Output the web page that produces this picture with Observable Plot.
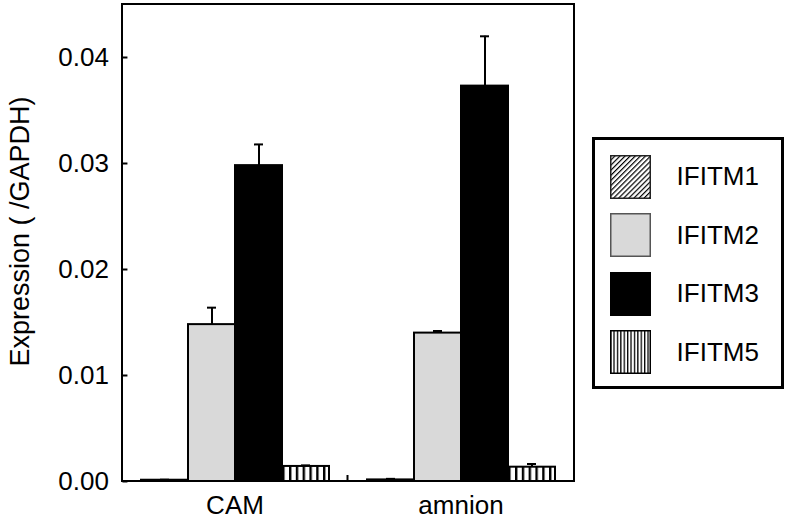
<!DOCTYPE html>
<html><head><meta charset="utf-8">
<script src="https://cdn.jsdelivr.net/npm/d3@7"></script>
<script src="https://cdn.jsdelivr.net/npm/@observablehq/plot@0.6"></script>
<style>
body{margin:0;background:#fff;font-family:Arial,"Liberation Sans",sans-serif;}
#wrap{position:relative;width:787px;height:528px;overflow:hidden;}
#legend{position:absolute;left:592px;top:137px;width:186px;height:246px;border:3px solid #000;background:#fff;}
.item{position:absolute;left:14.6px;height:44px;display:flex;align-items:center;}
.item svg{display:block;}
.item span{margin-left:26px;font-size:26px;color:#000;}
</style></head>
<body>
<svg width="0" height="0" style="position:absolute">
  <defs>
    <pattern id="vbar" patternUnits="userSpaceOnUse" width="6.8" height="10">
      <rect width="6.8" height="10" fill="#fff"/><rect x="0" width="2.4" height="10" fill="#000"/>
    </pattern>
    <pattern id="vleg" patternUnits="userSpaceOnUse" width="3.4" height="10">
      <rect width="3.4" height="10" fill="#fff"/><rect x="0" width="1.3" height="10" fill="#000"/>
    </pattern>
    <pattern id="diag" patternUnits="userSpaceOnUse" width="3.6" height="3.6" patternTransform="rotate(45)">
      <rect width="3.6" height="3.6" fill="#fff"/><rect width="1.2" height="3.6" fill="#000"/>
    </pattern>
  </defs>
</svg>
<div id="wrap"><div id="chart"></div><div id="legend"></div></div>
<script>
const groups = ["CAM", "amnion"];
const genes = ["IFITM1", "IFITM2", "IFITM3", "IFITM5"];
const camValues = [0.00012, 0.0148, 0.0298, 0.00142];
const camErrors = [0.00005, 0.0016, 0.0020, 0.0001];
const amnionValues = [0.00015, 0.0140, 0.0373, 0.00135];
const amnionErrors = [0.0001, 0.0002, 0.0047, 0.0003];
const yTicks = [0, 0.01, 0.02, 0.03, 0.04];
const yLabel = "Expression ( /GAPDH)";
const barFills = ["url(#diag)", "#d9d9d9", "#000000", "url(#vbar)"];
const legendFills = ["url(#diag)", "#d9d9d9", "#000000", "url(#vleg)"];
const legendStrokes = ["#222", "#555", "#000", "#000"];

const seriesValues = {CAM: camValues, amnion: amnionValues};
const seriesErrors = {CAM: camErrors, amnion: amnionErrors};
const data = groups.flatMap(g => genes.map((gene, i) => ({
  group: g, gene, value: seriesValues[g][i], error: seriesErrors[g][i], fill: barFills[i]
})));

const W = 787, H = 528, mL = 122, mR = 213, mT = 4, mB = 47;
const pI = 0.154, pO = 0.073;
// the y axis is anchored on the first facet's left edge; offset back to the frame
const step = (W - mL - mR) / (groups.length - pI + 2 * pO);
const outer = pO * step;
const font = 'Arial, "Liberation Sans", sans-serif';

const chart = Plot.plot({
  width: W, height: H, marginLeft: mL, marginRight: mR, marginTop: mT, marginBottom: mB,
  style: {fontFamily: font, fontSize: "26px", background: "white", color: "black"},
  fx: {domain: groups, paddingInner: pI, paddingOuter: pO, label: null},
  x: {domain: genes, padding: 0, axis: null},
  y: {domain: [0, 0.045]},
  color: {type: "identity"},
  marks: [
    Plot.barY(data, {fx: "group", x: "gene", y: "value", fill: "fill", stroke: "black", strokeWidth: 2, inset: 0}),
    Plot.ruleX(data, {fx: "group", x: "gene", y1: "value", y2: d => d.value + d.error, strokeWidth: 2, stroke: "black"}),
    Plot.tickY(data, {fx: "group", x: "gene", y: d => d.value + d.error, strokeWidth: 2, stroke: "black", insetLeft: 19, insetRight: 19}),
    // tick labels
    Plot.axisY({ticks: yTicks, tickFormat: d3.format(".2f"), tickSize: 0, tickPadding: 14 + outer, label: null, fontSize: 26}),
    // inward tick marks
    Plot.axisY({ticks: yTicks, tickFormat: () => "", tickSize: 5, dx: 5 - outer, strokeWidth: 2, label: null}),
    // axis title (only in the first facet)
    Plot.text([yLabel], {fx: () => groups[0], text: d => d, frameAnchor: "left", rotate: -90,
      textAnchor: "middle", lineAnchor: "middle", dx: 19 - mL - outer, dy: -11.5, fontSize: 27}),
    Plot.axisFx({anchor: "bottom", tickSize: 0, tickPadding: 14, label: null, fontSize: 26})
  ]
});
document.getElementById("chart").appendChild(chart);

// outer frame and group separator tick
const svg = d3.select(chart);
svg.append("rect").attr("x", mL).attr("y", mT).attr("width", W - mL - mR).attr("height", H - mT - mB)
  .attr("fill", "none").attr("stroke", "black").attr("stroke-width", 2);
const fx = chart.scale("fx");
const sepX = (fx.apply(groups[0]) + fx.bandwidth + fx.apply(groups[1])) / 2;
svg.append("line").attr("x1", sepX).attr("x2", sepX).attr("y1", H - mB).attr("y2", H - mB - 6)
  .attr("stroke", "black").attr("stroke-width", 2);

// legend
const legend = d3.select("#legend");
genes.forEach((g, i) => {
  const item = legend.append("div").attr("class", "item").style("top", (14.6 + i * 58.5) + "px");
  const s = item.append("svg").attr("width", 41).attr("height", 44);
  s.append("rect").attr("x", 0.75).attr("y", 0.75).attr("width", 39.5).attr("height", 42.5)
    .attr("fill", legendFills[i]).attr("stroke", legendStrokes[i]).attr("stroke-width", 1.5);
  item.append("span").text(g);
});
</script>
</body></html>
